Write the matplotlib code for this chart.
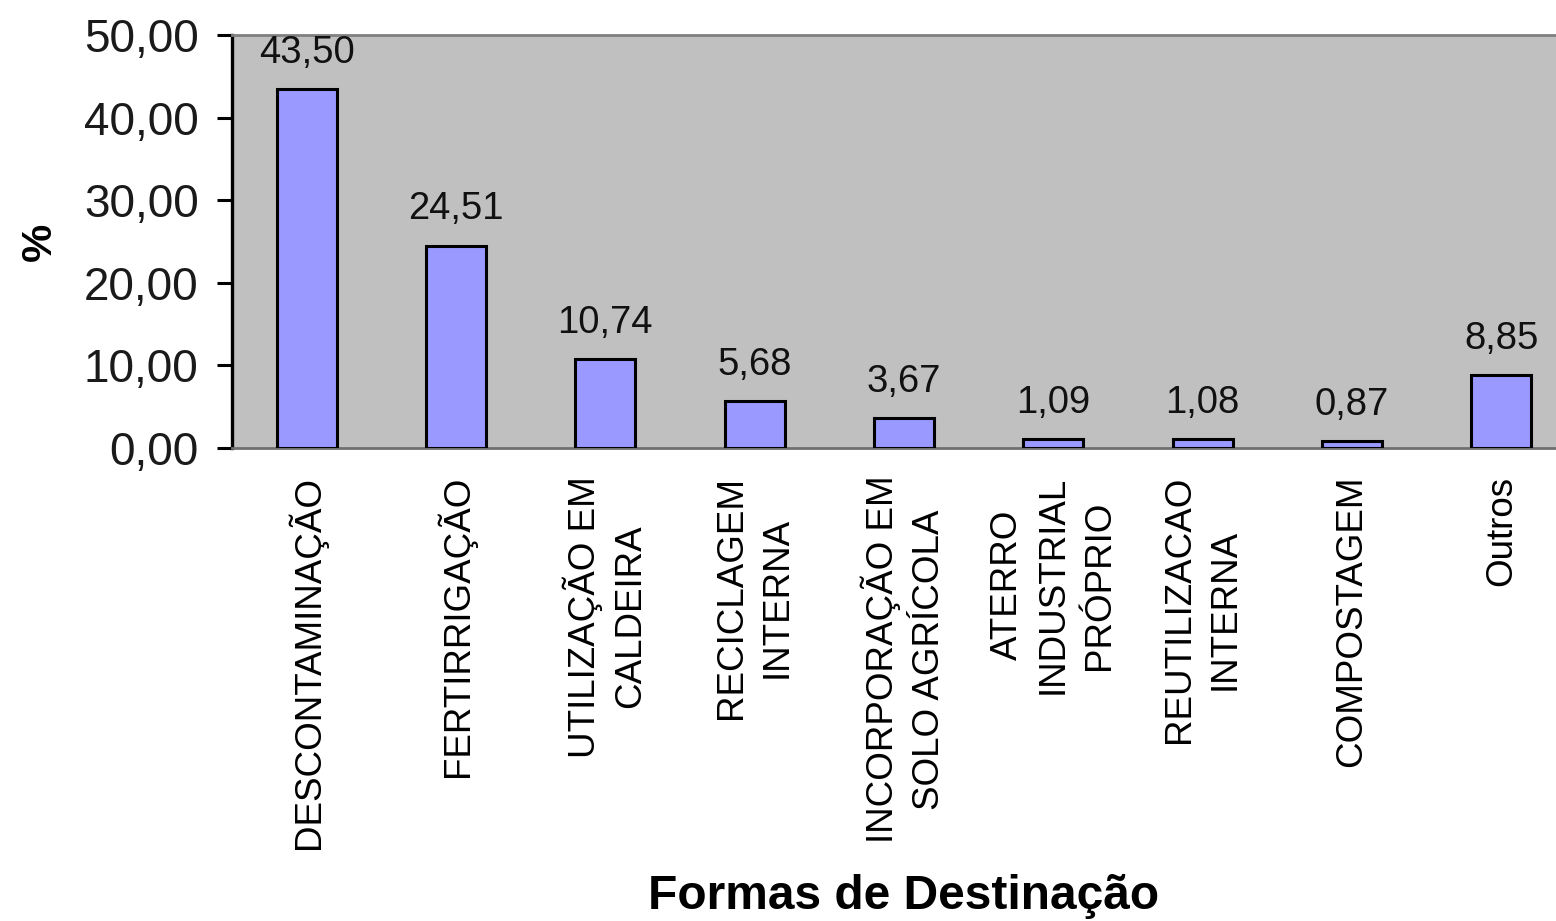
import numpy as np
import matplotlib.pyplot as plt

# dados do gráfico
categorias = ['DESCONTAMINAÇÃO', 'FERTIRRIGAÇÃO', 'UTILIZAÇÃO EM\nCALDEIRA',
              'RECICLAGEM\nINTERNA', 'INCORPORAÇÃO EM\nSOLO AGRÍCOLA',
              'ATERRO\nINDUSTRIAL\nPRÓPRIO', 'REUTILIZACAO\nINTERNA',
              'COMPOSTAGEM', 'Outros']
valores = [43.50, 24.51, 10.74, 5.68, 3.67, 1.09, 1.08, 0.87, 8.85]
yticks = [0, 10, 20, 30, 40, 50]

plt.rcParams['font.family'] = ['Liberation Sans', 'DejaVu Sans']

fig = plt.figure(figsize=(15.56, 9.21), dpi=100)
# eixo ultrapassa a borda direita, como no original
ax = fig.add_axes([232 / 1556, 1 - 448 / 921, 1344 / 1556, 413 / 921])
ax.set_facecolor('#C0C0C0')

x = np.arange(len(valores))
ax.bar(x, valores, width=0.4, color='#9999FF', edgecolor='black', linewidth=2.2, zorder=3)

for xi, v in zip(x, valores):
    ax.annotate(f'{v:.2f}'.replace('.', ','), (xi, v), xytext=(0, 13),
                textcoords='offset points', ha='center', va='bottom',
                fontsize=27.5, color='#111111')

ax.set_xlim(-0.5, len(valores) - 0.5)
ax.set_ylim(0, 50)
ax.set_yticks(yticks)
ax.set_yticklabels([f'{t:.2f}'.replace('.', ',') for t in yticks], fontsize=33, color='#1a1a1a')
ax.tick_params(axis='y', length=11, width=2.2, pad=13, color='black')

ax.set_xticks(x)
ax.set_xticklabels(categorias, rotation=90, ha='center', va='top',
                   multialignment='center', fontsize=26.5, linespacing=1.4)
ax.tick_params(axis='x', length=0, pad=20)

ax.spines['left'].set_color('black')
ax.spines['left'].set_linewidth(2.4)
ax.spines['top'].set_color('#808080')
ax.spines['top'].set_linewidth(2)
ax.spines['bottom'].set_color('#707070')
ax.spines['bottom'].set_linewidth(2)
ax.spines['right'].set_visible(False)

ax.set_ylabel('%', fontsize=31, fontweight='bold', labelpad=17)
ax.set_xlabel('Formas de Destinação', fontsize=34.5, fontweight='bold', labelpad=18)

fig.savefig('out.png', dpi=100)
